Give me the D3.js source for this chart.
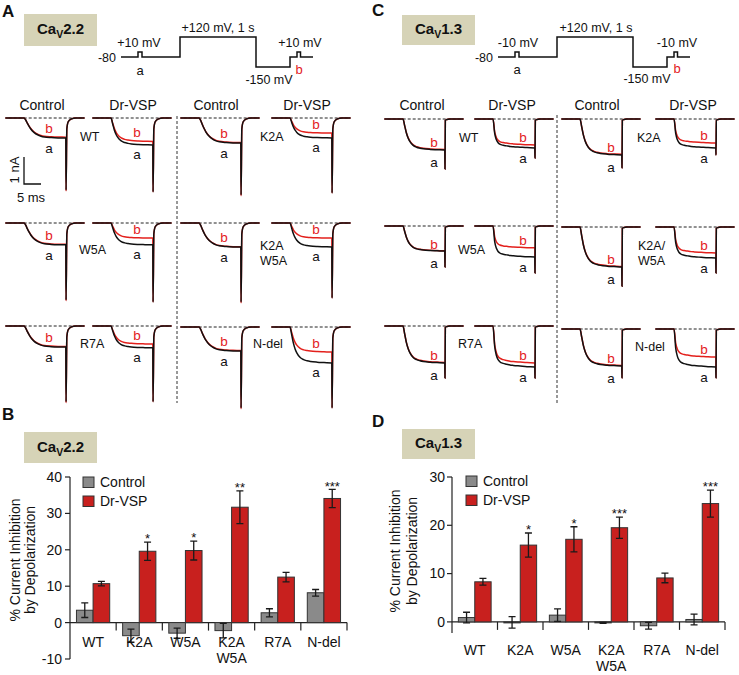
<!DOCTYPE html>
<html><head><meta charset="utf-8">
<script src="https://cdn.jsdelivr.net/npm/d3@7"></script>
<style>body{margin:0;background:#fff} svg{display:block}</style>
</head><body><svg id="fig" width="739" height="675"></svg>
<script>
// ================= DATA =================
const groups = ["WT","K2A","W5A","K2A/W5A","R7A","N-del"];
const groupLines = [["WT"],["K2A"],["W5A"],["K2A","W5A"],["R7A"],["N-del"]];
const seriesNames = ["Control","Dr-VSP"];

// Panel B: CaV2.2 % current inhibition
const cav22Control    = [3.4, -3.6, -2.9, -2.2, 2.7, 8.2];
const cav22ControlErr = [2.0, 1.8, 1.4, 2.0, 1.1, 0.9];
const cav22VSP        = [10.7, 19.6, 19.8, 31.7, 12.5, 34.1];
const cav22VSPErr     = [0.6, 2.5, 2.6, 4.5, 1.3, 2.5];
const cav22Sig        = ["", "*", "*", "**", "", "***"];
const cav22Ticks      = [-10, 0, 10, 20, 30, 40];

// Panel D: CaV1.3 % current inhibition
const cav13Control    = [0.9, -0.1, 1.4, -0.2, -0.8, 0.5];
const cav13ControlErr = [1.1, 1.2, 1.3, 0.1, 0.7, 1.1];
const cav13VSP        = [8.3, 15.9, 17.1, 19.5, 9.1, 24.5];
const cav13VSPErr     = [0.7, 2.5, 2.6, 2.2, 1.0, 2.8];
const cav13Sig        = ["", "*", "*", "***", "", "***"];
const cav13Ticks      = [0, 10, 20, 30];

// Current traces (nA, inward), per mutant in `groups` order
const cav22CtrlA    = [0.74, 0.93, 0.81, 0.89, 0.78, 0.89];
const cav22CtrlB    = [0.71, 0.91, 0.79, 0.88, 0.76, 0.87];
const cav22VspA     = [1.00, 0.74, 0.81, 0.89, 0.81, 1.33];
const cav22VspB     = [0.87, 0.56, 0.56, 0.56, 0.67, 0.93];
const cav22CtrlTail = [2.67, 2.85, 2.85, 2.93, 2.81, 3.00];
const cav22VspTail  = [2.74, 2.78, 2.93, 2.78, 2.81, 3.00];

const cav13CtrlA    = [1.15, 1.33, 0.93, 1.48, 1.37, 1.37];
const cav13CtrlB    = [1.13, 1.31, 0.92, 1.46, 1.35, 1.35];
const cav13VspA     = [1.07, 1.07, 1.15, 1.15, 1.52, 1.41];
const cav13VspB     = [0.96, 0.89, 0.81, 0.96, 1.37, 1.04];
const cav13CtrlTail = [1.85, 1.81, 1.52, 2.19, 1.93, 1.81];
const cav13VspTail  = [1.44, 1.33, 1.74, 1.70, 1.93, 1.81];

// normalized activation time course (ms after onset)
const tmplT = [0, 0.5, 1, 1.5, 2, 3, 4, 5, 6, 8, 10, 12.3];
const slowF = [0, 0.10, 0.27, 0.42, 0.55, 0.73, 0.84, 0.91, 0.95, 0.98, 0.995, 1];
const midF  = [0, 0.22, 0.45, 0.61, 0.72, 0.85, 0.91, 0.94, 0.96, 0.98, 0.99, 1];
const fastF = [0, 0.50, 0.72, 0.82, 0.87, 0.91, 0.93, 0.95, 0.96, 0.975, 0.99, 1];
// tail currents (ms after pulse end, nA); first value is the spike peak
const tailAT = [0.07, 0.3, 0.7, 1.5, 3.0];
const tailAV = [null, 0.40, 0.14, 0.04, 0];
const tailCT = [0.05, 0.15, 0.6, 1.5];
const tailCV = [null, 0.05, 0.02, 0];

// Voltage protocol (schematic durations, mV)
const protoDur = [17, 4, 38, 76, 34, 7, 3.5, 12.5];
const protoA   = [-80, 10, -80, 120, -150, -80, 10, -80];
const protoC   = [-80, -10, -80, 120, -150, -80, -10, -80];

// scale bar
const scaleNA = 1, scaleMs = 5;

// ================= LAYOUT =================
const FONT = '"Liberation Sans", Arial, Helvetica, sans-serif';
const RED = "#e3201c", BLK = "#111";
const BOXFILL = "#d6d3b7";
const PX_MS = 3.4, PX_NA = 27;
const PRE = 5.5, PULSE = 12.3, POST = 5.5;

const svg = d3.select("#fig").style("font-family", FONT);

function text(x, y, s, o = {}) {
  const t = svg.append("text").attr("x", x).attr("y", y).text(s)
    .attr("font-size", o.size || 13)
    .attr("fill", o.fill || "#111")
    .attr("text-anchor", o.anchor || "start");
  if (o.weight) t.attr("font-weight", o.weight);
  if (o.dy) t.attr("dy", o.dy);
  if (o.rotate) t.attr("transform", `rotate(-90,${x},${y})`);
  return t;
}

// ---- panel letters ----
[["A", 2, 17], ["C", 372, 16], ["B", 2, 420], ["D", 372, 427]].forEach(d =>
  text(d[1], d[2], d[0], {size: 17, weight: "bold"}));

// ---- title boxes ----
function cavBox(x, y, w, h, num) {
  svg.append("rect").attr("x", x).attr("y", y).attr("width", w).attr("height", h).attr("fill", BOXFILL);
  const t = svg.append("text").attr("x", x + w / 2).attr("y", y + h / 2 + 4)
    .attr("text-anchor", "middle").attr("font-size", 15).attr("font-weight", "bold").attr("fill", "#111");
  t.append("tspan").text("Ca");
  t.append("tspan").attr("font-size", 10.5).attr("dy", 4).text("V");
  t.append("tspan").attr("dy", -4).text(num);
}
cavBox(24, 14, 73, 32, "2.2");
cavBox(402, 15, 73, 30, "1.3");
cavBox(24, 432, 73, 31, "2.2");
cavBox(402, 429, 73, 30, "1.3");

// ---- voltage protocols ----
function protocol(x0, levels, domain, labels) {
  const vy = d3.scaleLinear().domain(domain).range([67, 57, 52, 37]);
  const tx = d3.scaleLinear().domain([0, 1]).range([x0, x0 + 1]);
  const pts = [];
  let t = 0;
  levels.forEach((v, i) => { pts.push([t, v]); t += protoDur[i]; pts.push([t, v]); });
  svg.append("path").attr("d", d3.line().x(d => tx(d[0])).y(d => vy(d[1]))(pts))
    .attr("fill", "none").attr("stroke", BLK).attr("stroke-width", 1.5);
  labels.forEach(l => text(l[0], l[1], l[2], {size: l[4] || 12.5, anchor: l[3], fill: l[5] || "#111", dy: "0.35em"}));
}
protocol(121, protoA, [-150, -80, 10, 120], [
  [116, 58, "-80", "end"], [139, 43, "+10 mV", "middle"], [140, 70, "a", "middle", 13],
  [218, 28, "+120 mV, 1 s", "middle"], [269, 80, "-150 mV", "middle"],
  [299, 69, "b", "middle", 13, RED], [300, 43, "+10 mV", "middle"]]);
protocol(498, protoC, [-150, -80, -10, 120], [
  [493, 58, "-80", "end"], [518, 43, "-10 mV", "middle"], [517, 69, "a", "middle", 13],
  [596, 28, "+120 mV, 1 s", "middle"], [647, 79, "-150 mV", "middle"],
  [677, 68, "b", "middle", 13, RED], [677, 43, "-10 mV", "middle"]]);

// ---- traces ----
function tracePath(x0, y0, amp, tail, tmpl, tT, tV) {
  const xs = d3.scaleLinear().domain([0, 1]).range([x0, x0 + PX_MS]);
  const ys = d3.scaleLinear().domain([0, 1]).range([y0, y0 + PX_NA]);
  const pts = [[-PRE, 0], [0, 0]];
  tmplT.forEach((t, i) => { if (i > 0) pts.push([t, tmpl[i] * amp]); });
  tT.forEach((t, i) => pts.push([PULSE + t, i === 0 ? tail : tV[i]]));
  pts.push([PULSE + POST, 0]);
  return d3.line().x(d => xs(d[0])).y(d => ys(d[1])).curve(d3.curveMonotoneX)(pts);
}
function tracePanel(x0, y0, a, b, tailA, tailB, tmplA, tmplB, tT, tV, labA, labB) {
  const xs = d3.scaleLinear().domain([0, 1]).range([x0, x0 + PX_MS]);
  const ys = d3.scaleLinear().domain([0, 1]).range([y0, y0 + PX_NA]);
  svg.append("line").attr("x1", xs(-PRE + 1)).attr("x2", xs(PULSE + POST)).attr("y1", y0).attr("y2", y0)
    .attr("stroke", "#222").attr("stroke-width", 1).attr("stroke-dasharray", "3,2");
  svg.append("path").attr("d", tracePath(x0, y0, b, tailB, tmplB, tT, tV))
    .attr("fill", "none").attr("stroke", RED).attr("stroke-width", 1.5);
  svg.append("path").attr("d", tracePath(x0, y0, a, tailA, tmplA, tT, tV))
    .attr("fill", "none").attr("stroke", BLK).attr("stroke-width", 1.5);
  text(x0 + labB[0], ys(b) + labB[1], "b", {size: 13.5, anchor: "middle", fill: RED, dy: "0.35em"});
  text(x0 + labA[0], ys(a) + labA[1], "a", {size: 13.5, anchor: "middle", dy: "0.35em"});
}

const halfMutants = [[0, 2, 4], [1, 3, 5]];
// CaV2.2 traces
const aOn = [24, 111, 199, 290];
const aBase = [[118, 118], [223, 223], [326, 327]];
// CaV1.3 traces
const cOn = [403, 493, 580, 674];
const cBase = [[119, 119], [226, 227], [326, 329]];

for (let h = 0; h < 2; h++) {
  for (let r = 0; r < 3; r++) {
    const m = halfMutants[h][r];
    tracePanel(aOn[2 * h], aBase[r][h], cav22CtrlA[m], cav22CtrlB[m], cav22CtrlTail[m], cav22CtrlTail[m] + 0.03,
      slowF, slowF, tailAT, tailAV, [25, 10], [25, -9]);
    tracePanel(aOn[2 * h + 1], aBase[r][h], cav22VspA[m], cav22VspB[m], cav22VspTail[m], cav22VspTail[m],
      midF, midF, tailAT, tailAV, [26, 9], [26, -9]);
    tracePanel(cOn[2 * h], cBase[r][h], cav13CtrlA[m], cav13CtrlB[m], cav13CtrlTail[m], cav13CtrlTail[m],
      midF, midF, tailCT, tailCV, [31, 12], [31, -7]);
    tracePanel(cOn[2 * h + 1], cBase[r][h], cav13VspA[m], cav13VspB[m], cav13VspTail[m], cav13VspTail[m],
      fastF, fastF, tailCT, tailCV, [30, 10], [30, -8]);
  }
}

// column headers
[[42, 0], [133, 1], [216, 0], [307, 1], [422, 0], [512, 1], [597, 0], [693, 1]].forEach(d =>
  text(d[0], 105, seriesNames[d[1]], {size: 14, anchor: "middle", dy: "0.35em"}));

// mutant labels
const mutLabels = [
  [80, [137], ["WT"]], [260, [137], ["K2A"]], [79, [250], ["W5A"]], [260, [246, 261], ["K2A", "W5A"]],
  [80, [344], ["R7A"]], [253, [344], ["N-del"]],
  [459, [138], ["WT"]], [637, [138], ["K2A"]], [458, [250], ["W5A"]], [638, [246, 261], ["K2A/", "W5A"]],
  [458, [344], ["R7A"]], [635, [347], ["N-del"]]];
mutLabels.forEach(l => l[2].forEach((s, i) => text(l[0], l[1][i], s, {size: 12.5, dy: "0.35em"})));

// dashed dividers
[[177, 116, 403], [557, 115, 405]].forEach(d =>
  svg.append("line").attr("x1", d[0]).attr("x2", d[0]).attr("y1", d[1]).attr("y2", d[2])
    .attr("stroke", "#333").attr("stroke-width", 1).attr("stroke-dasharray", "3,2"));

// scale bar
{
  const x0 = 24, y0 = 184;
  svg.append("path").attr("d", `M${x0},${y0 - scaleNA * PX_NA}V${y0}H${x0 + scaleMs * PX_MS}`)
    .attr("fill", "none").attr("stroke", BLK).attr("stroke-width", 1.3);
  text(19, 170, "1 nA", {size: 13, anchor: "middle", rotate: true});
  text(31, 197, "5 ms", {size: 13, anchor: "middle", dy: "0.35em"});
}

// ================= BAR CHARTS =================
function barChart(cfg) {
  const {x0, x1, yDomain, yRange, ticks, ctrl, ctrlErr, vsp, vspErr, sig, tickRight,
         titleX, titleY, legX, legY, labY} = cfg;
  const y = d3.scaleLinear().domain(yDomain).range(yRange);
  const x = d3.scaleBand().domain(groups).range([x0, x1]).paddingInner(0.28).paddingOuter(0.14);
  const xs = d3.scaleBand().domain(seriesNames).range([0, x.bandwidth()]);
  const g = svg.append("g");
  g.append("line").attr("x1", x0).attr("x2", x0).attr("y1", yRange[0]).attr("y2", yRange[1])
    .attr("stroke", "#222").attr("stroke-width", 1.2);
  ticks.forEach(t => {
    g.append("line").attr("x1", x0 - 5).attr("x2", x0).attr("y1", y(t)).attr("y2", y(t))
      .attr("stroke", "#222").attr("stroke-width", 1.2);
    text(tickRight, y(t), t, {size: 14, anchor: "end", dy: "0.35em"});
  });
  g.append("line").attr("x1", x0).attr("x2", x1).attr("y1", y(0)).attr("y2", y(0))
    .attr("stroke", "#222").attr("stroke-width", 1.2);
  const step = x.step();
  d3.range(1, groups.length + 1).forEach(i => {
    const xx = x0 + step * i;
    g.append("line").attr("x1", xx).attr("x2", xx).attr("y1", y(0)).attr("y2", y(0) + 8)
      .attr("stroke", "#222").attr("stroke-width", 1.2);
  });
  const series = [[ctrl, ctrlErr, "#8a8a8a"], [vsp, vspErr, "#c8201e"]];
  series.forEach((s, si) => {
    groups.forEach((gname, i) => {
      const v = s[0][i];
      const bx = x(gname) + xs(seriesNames[si]);
      const w = xs.bandwidth();
      g.append("rect").attr("x", bx).attr("width", w)
        .attr("y", y(Math.max(0, v))).attr("height", Math.max(1, Math.abs(y(v) - y(0))))
        .attr("fill", s[2]).attr("stroke", "#333").attr("stroke-width", 1);
    });
  });
  series.forEach((s, si) => {
    groups.forEach((gname, i) => {
      const v = s[0][i], e = s[1][i];
      const cx = x(gname) + xs(seriesNames[si]) + xs.bandwidth() / 2;
      g.append("path").attr("d",
        `M${cx},${y(v + e)}V${y(v - e)}M${cx - 3.5},${y(v + e)}H${cx + 3.5}M${cx - 3.5},${y(v - e)}H${cx + 3.5}`)
        .attr("fill", "none").attr("stroke", "#1a1a1a").attr("stroke-width", 1.3);
      if (si === 1 && sig[i]) {
        text(cx, y(v + e) - 6, sig[i], {size: 13, anchor: "middle", dy: "0.55em"});
      }
    });
  });
  groups.forEach((gname, i) => {
    const cx = x(gname) + x.bandwidth() / 2;
    groupLines[i].forEach((s, li) => text(cx, labY + li * 16.5, s, {size: 14, anchor: "middle", dy: "0.35em"}));
  });
  text(titleX[0], titleY, "% Current Inhibition", {size: 14, anchor: "middle", rotate: true});
  text(titleX[1], titleY, "by Depolarization", {size: 14, anchor: "middle", rotate: true});
  [["#8a8a8a", 0], ["#c8201e", 1]].forEach((d, i) => {
    g.append("rect").attr("x", legX).attr("y", legY + i * 19).attr("width", 11).attr("height", 10.5)
      .attr("fill", d[0]).attr("stroke", "#333").attr("stroke-width", 1);
    text(legX + 17, legY + 5 + i * 19, seriesNames[d[1]], {size: 14, dy: "0.35em"});
  });
}

barChart({x0: 70, x1: 347, yDomain: [-10, 40], yRange: [659, 477], ticks: cav22Ticks,
  ctrl: cav22Control, ctrlErr: cav22ControlErr, vsp: cav22VSP, vspErr: cav22VSPErr, sig: cav22Sig,
  tickRight: 62, titleX: [20, 35], titleY: 560, legX: 83, legY: 477, labY: 642});
barChart({x0: 452, x1: 725, yDomain: [-2.3, 30], yRange: [633, 477], ticks: cav13Ticks,
  ctrl: cav13Control, ctrlErr: cav13ControlErr, vsp: cav13VSP, vspErr: cav13VSPErr, sig: cav13Sig,
  tickRight: 445, titleX: [400, 417], titleY: 551, legX: 466, legY: 476, labY: 650});
</script></body></html>
